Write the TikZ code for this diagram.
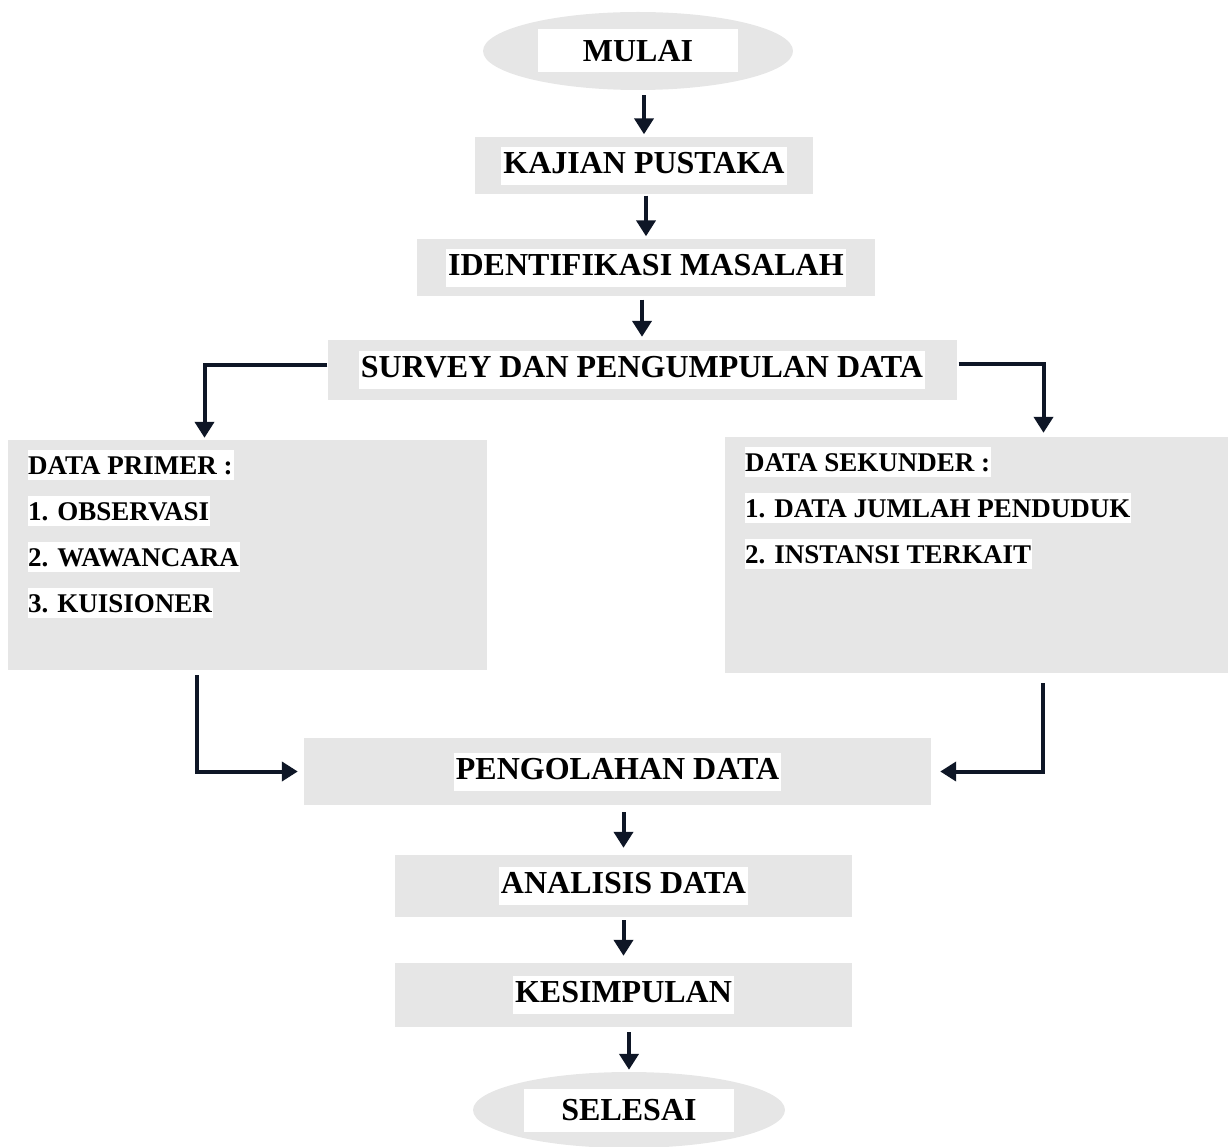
\documentclass[tikz,border=0pt]{standalone}
\usepackage{fontspec}
\setmainfont{Liberation Serif}
\usepackage{xcolor}
\usepackage{tikz}
\usetikzlibrary{shapes.geometric, arrows.meta}

\definecolor{boxgray}{RGB}{230,230,230}
\definecolor{arrowink}{RGB}{14,22,38}

% white highlight behind the texts
\newcommand{\hl}[1]{{\setlength{\fboxsep}{0pt}\colorbox{white}{\kern2pt\strut #1\kern2pt}}}
\newcommand{\hlx}[1]{{\setlength{\fboxsep}{0pt}\colorbox{white}{\rule[-6pt]{0pt}{30pt}#1\kern1pt}}}
\newcommand{\hlend}[2]{{\setlength{\fboxsep}{0pt}\colorbox{white}{\parbox[c][43pt][c]{#1}{\centering #2}}}}

\tikzset{
	terminal/.style={ellipse, fill=boxgray, inner sep=0pt, font=\fontsize{32}{38}\selectfont\bfseries},
	stepbox/.style={rectangle, fill=boxgray, inner sep=0pt, font=\fontsize{32}{38}\selectfont\bfseries},
	databox/.style={rectangle, fill=boxgray, inner sep=0pt},
	datalist/.style={anchor=north west, inner sep=0pt, align=left, font=\fontsize{27}{46}\selectfont\bfseries},
	arr/.style={-{Triangle[length=16pt 0, width=19pt 0]}, line width=4pt, arrowink}
}

\begin{document}
\begin{tikzpicture}[x=1pt, y=-1pt]
			
			\useasboundingbox (0,0) rectangle (1230,1147);
			
			% Start and end
			\node[terminal, minimum width=310, minimum height=78] (mulai) at (638,51) {\hlend{200pt}{MULAI}};
			\node[terminal, minimum width=312, minimum height=76] (selesai) at (629,1110) {\hlend{210pt}{SELESAI}};
			
			% Main steps
			\node[stepbox, minimum width=338, minimum height=57] (kajian) at (644,166) {\hl{KAJIAN PUSTAKA}};
			\node[stepbox, minimum width=458, minimum height=57] (identifikasi) at (646,268) {\hl{IDENTIFIKASI MASALAH}};
			\node[stepbox, minimum width=629, minimum height=60] (survey) at (642,370) {\hl{SURVEY DAN PENGUMPULAN DATA}};
			\node[stepbox, minimum width=627, minimum height=67] (pengolahan) at (617.5,771.5) {\hl{PENGOLAHAN DATA}};
			\node[stepbox, minimum width=457, minimum height=62] (analisis) at (623.5,886) {\hl{ANALISIS DATA}};
			\node[stepbox, minimum width=457, minimum height=64] (kesimpulan) at (623.5,995) {\hl{KESIMPULAN}};
			
			% Data boxes
			\node[databox, minimum width=479, minimum height=230] (primer) at (247.5,555) {};
			\node[datalist] (primerlist) at (28,450) {\hlx{DATA PRIMER :}\\ \hlx{1. OBSERVASI}\\ \hlx{2. WAWANCARA}\\ \hlx{3. KUISIONER}};
			\node[databox, minimum width=503, minimum height=236] (sekunder) at (976.5,555) {};
			\node[datalist] (sekunderlist) at (745,447) {\hlx{DATA SEKUNDER :}\\ \hlx{1. DATA JUMLAH PENDUDUK}\\ \hlx{2. INSTANSI TERKAIT}};
			
			% Straight arrows
			\draw[arr, shorten <=5pt, shorten >=3pt] (kajian.north |- mulai.south) -- (kajian.north);
			\draw[arr, shorten <=1pt, shorten >=3pt] (identifikasi.north |- kajian.south) -- (identifikasi.north);
			\draw[arr, shorten <=3pt, shorten >=3pt] (survey.north |- identifikasi.south) -- (survey.north);
			\draw[arr, shorten <=7pt, shorten >=7pt] (analisis.north |- pengolahan.south) -- (analisis.north);
			\draw[arr, shorten <=3pt, shorten >=7pt] (kesimpulan.north |- analisis.south) -- (kesimpulan.north);
			\draw[arr, shorten <=5pt, shorten >=2pt] (selesai.north |- kesimpulan.south) -- (selesai.north);
			
			% Branches
			\draw[arr, shorten >=2pt] ([yshift=5pt]survey.west) -| ([xshift=-43pt]primer.north);
			\draw[arr, shorten <=2pt, shorten >=4pt] ([yshift=6pt]survey.east) -| ([xshift=67pt]sekunder.north);
			\draw[arr, shorten <=5pt, shorten >=6pt] ([xshift=-51pt]primer.south) |- (pengolahan.west);
			\draw[arr, shorten <=10pt, shorten >=9pt] ([xshift=66pt]sekunder.south) |- (pengolahan.east);
			
		\end{tikzpicture}
\end{document}
